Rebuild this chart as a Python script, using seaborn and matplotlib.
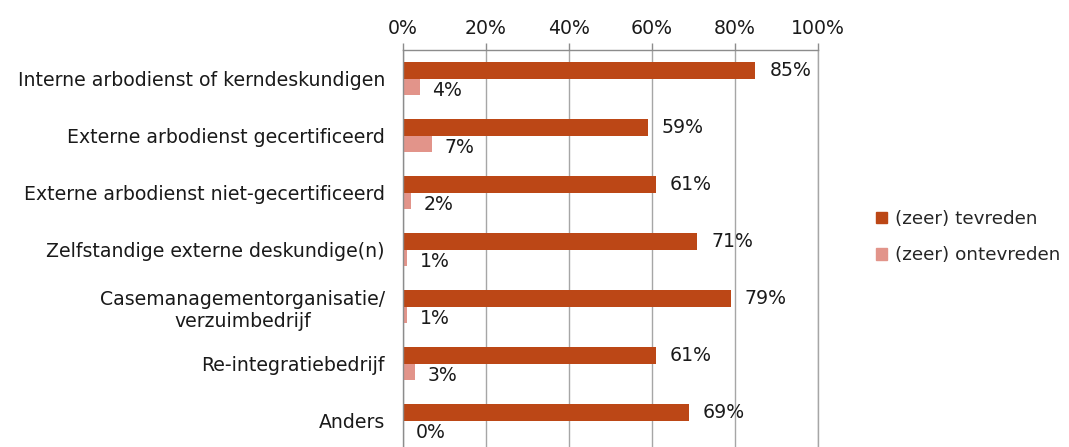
import matplotlib
matplotlib.use("Agg")
import matplotlib.pyplot as plt
import seaborn as sns
import pandas as pd
import numpy as np
from matplotlib.ticker import FixedLocator, PercentFormatter

categories = [
    "Interne arbodienst of kerndeskundigen",
    "Externe arbodienst gecertificeerd",
    "Externe arbodienst niet-gecertificeerd",
    "Zelfstandige externe deskundige(n)",
    "Casemanagementorganisatie/\nverzuimbedrijf",
    "Re-integratiebedrijf",
    "Anders",
]
series = ["(zeer) tevreden", "(zeer) ontevreden"]
tevreden = [85, 59, 61, 71, 79, 61, 69]
ontevreden = [4, 7, 2, 1, 1, 3, 0]
colors = ["#BC4716", "#E2948A"]

df = pd.DataFrame({
    "cat": categories * 2,
    "series": [series[0]] * len(categories) + [series[1]] * len(categories),
    "value": tevreden + ontevreden,
})

sns.set_style("white")
plt.rcParams["font.family"] = "sans-serif"
plt.rcParams["font.sans-serif"] = ["DejaVu Sans"]
FS = 13.6

fig = plt.figure(figsize=(10.69, 4.47), dpi=100)
ax = fig.add_axes([403 / 1069, 1 - 449 / 447, (817.7 - 403) / 1069, 399 / 447])

sns.barplot(data=df, y="cat", x="value", hue="series", orient="h",
            palette=colors, width=0.58, dodge=True, ax=ax, legend=False,
            edgecolor="none", saturation=1)

ax.set_xlim(0, 100)
ax.set_ylim(6.5, -0.5)
ax.set_xlabel("")
ax.set_ylabel("")
ax.xaxis.tick_top()
ax.xaxis.set_major_locator(FixedLocator([0, 20, 40, 60, 80, 100]))
ax.xaxis.set_major_formatter(PercentFormatter(decimals=0))
ax.tick_params(axis="x", which="major", direction="out", length=5, width=1,
               color="#8C8C8C", labelsize=FS, pad=4, labelcolor="#1a1a1a")
ax.tick_params(axis="y", which="major", length=0, labelsize=FS, pad=13,
               labelcolor="#1a1a1a")
ax.yaxis.set_minor_locator(FixedLocator(np.arange(-0.5, 7, 1)))
ax.tick_params(axis="y", which="minor", direction="out", length=5, width=1,
               color="#8C8C8C")
for lbl in ax.get_yticklabels():
    lbl.set_horizontalalignment("right")
    lbl.set_multialignment("center")
    lbl.set_linespacing(1.25)

ax.grid(axis="x", color="#A6A6A6", linewidth=1)
ax.set_axisbelow(True)
ax.spines["bottom"].set_visible(False)
ax.spines["right"].set_color("#A6A6A6")
ax.spines["right"].set_linewidth(1)
for side in ["top", "left"]:
    ax.spines[side].set_color("#8C8C8C")
    ax.spines[side].set_linewidth(1)

# data labels
cont0, cont1 = ax.containers[0], ax.containers[1]
ax.bar_label(cont0, labels=[f"{v}%" for v in tevreden], padding=10,
             fontsize=FS, color="#1a1a1a")
for rect, v in zip(cont1, ontevreden):
    ax.annotate(f"{v}%", xy=(rect.get_width(), rect.get_y() + rect.get_height() / 2),
                xytext=(9, -3), textcoords="offset points", ha="left", va="center",
                fontsize=FS, color="#1a1a1a")

handles = [plt.Rectangle((0, 0), 1, 1, color=c) for c in colors]
fig.legend(handles, series, loc="center left", bbox_to_anchor=(869 / 1069, 1 - 237 / 447),
           frameon=False, prop={"size": 13.2},
           handlelength=0.6, handleheight=0.6,
           handletextpad=0.4, labelspacing=1.0, borderaxespad=0)

fig.savefig("out.png", dpi=100)
